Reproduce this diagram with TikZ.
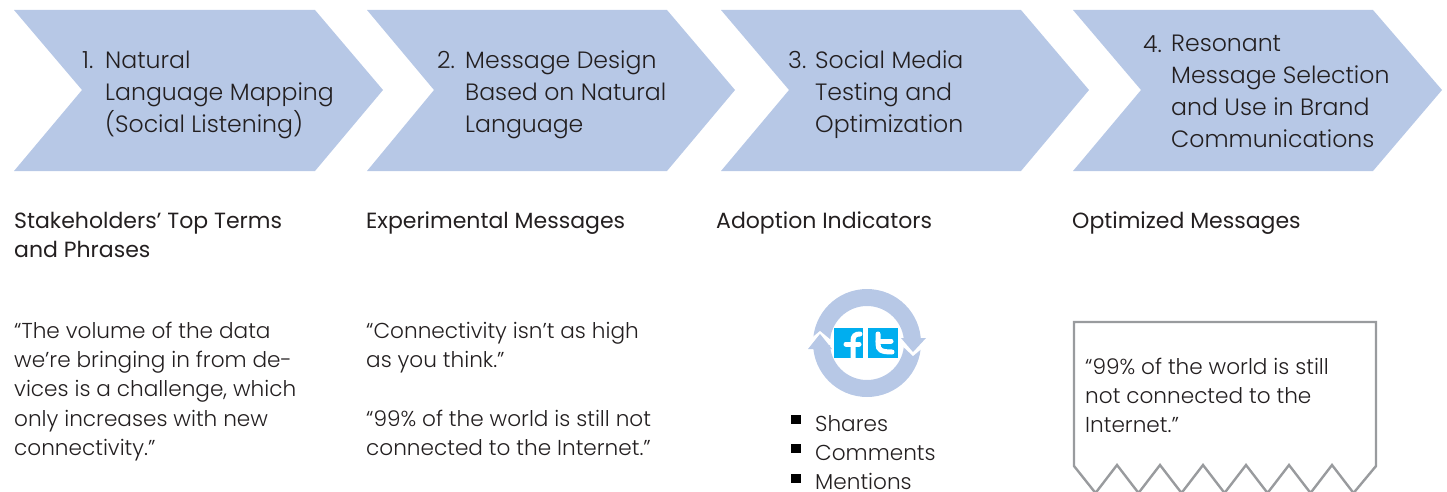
\documentclass[tikz,border=0pt]{standalone}
\usepackage{fontspec}
\setmainfont{Poppins Light}
\newfontfamily\headf{Poppins}
\definecolor{chev}{HTML}{B7C8E6}
\definecolor{ink}{HTML}{231F20}
\definecolor{fbblue}{HTML}{00AEEF}
\definecolor{boxgray}{HTML}{999B9E}
\tikzset{
  chevron/.style={fill=chev,draw=none},
  steptxt/.style={anchor=north west,inner sep=0pt,align=left,text=ink,font=\fontsize{23.6}{32}\selectfont},
  headtxt/.style={anchor=north west,inner sep=0pt,align=left,text=ink,font=\headf\fontsize{22}{29}\selectfont},
  bodytxt/.style={anchor=north west,inner sep=0pt,align=left,text=ink,font=\fontsize{21.6}{29.2}\selectfont},
  bullet/.style={fill=black,draw=none},
  logo/.style={draw=white,line width=5pt,line cap=round}
}
\begin{document}
\begin{tikzpicture}[x=1pt,y=-1pt]
\useasboundingbox (0,0) rectangle (1447,492);
\clip (0,0) rectangle (1447,492);
% chevrons
\fill[chevron] (14,10) -- (315,10) -- (383,90) -- (315,171) -- (14,171) -- (82,90) -- cycle;
\fill[chevron] (367,10) -- (667,10) -- (735,90) -- (667,171) -- (367,171) -- (434,90) -- cycle;
\fill[chevron] (721,10) -- (1021,10) -- (1089,90) -- (1021,171) -- (721,171) -- (789,90) -- cycle;
\fill[chevron] (1073,10) -- (1373,10) -- (1442,90) -- (1373,171) -- (1073,171) -- (1141,90) -- cycle;
% step labels
\node[steptxt] (s1n) at (82,51) {1.};
\node[steptxt] (s1) at (105,51) {Natural\\Language Mapping\\(Social Listening)};
\node[steptxt] (s2n) at (437,51) {2.};
\node[steptxt] (s2) at (465,51) {Message Design\\Based on Natural\\Language};
\node[steptxt] (s3n) at (788,51) {3.};
\node[steptxt] (s3) at (815,51) {Social Media\\Testing and\\Optimization};
\node[steptxt] (s4n) at (1143,35) {4.};
\node[steptxt] (s4) at (1171,35) {Resonant\\Message Selection\\and Use in Brand\\Communications};
% headings
\node[headtxt] (h1) at (14,212) {Stakeholders’ Top Terms\\and Phrases};
\node[headtxt] (h2) at (366,212) {Experimental Messages};
\node[headtxt] (h3) at (716,212) {Adoption Indicators};
\node[headtxt] (h4) at (1072,212) {Optimized Messages};
% bodies
\node[bodytxt] (b1) at (14,322) {“The volume of the data\\we’re bringing in from de-\\vices is a challenge, which\\only increases with new\\connectivity.”};
\node[bodytxt] (b2a) at (366,322) {“Connectivity isn’t as high\\as you think.”};
\node[bodytxt] (b2b) at (366,410) {“99\% of the world is still not\\connected to the Internet.”};
% icon ring
\fill[chev,even odd rule] (867,343) circle[radius=54] (867,343) circle[radius=37];
\fill[white] (897,341) -- (931,341) -- (913,356) -- cycle;
\fill[white] (803,345) -- (837,345) -- (820,331) -- cycle;
\fill[chev] (901,338) -- (926,338) -- (913,352) -- cycle;
\fill[chev] (808,349) -- (832,349) -- (820,334) -- cycle;
\fill[fbblue] (834,328) rectangle (863,358);
\fill[fbblue] (868,328) rectangle (898,358);
\draw[logo] (853,358) -- (853,341) .. controls (853,336) and (855,334) .. (860,334);
\draw[logo] (846,344) -- (859,344);
\draw[logo] (878,334) -- (878,344) .. controls (878,350) and (881,352) .. (892,352);
\draw[logo] (878,341) -- (891,341);
% bullets
\fill[bullet] (791,415) rectangle (801,424);
\fill[bullet] (791,444) rectangle (801,453);
\fill[bullet] (791,474) rectangle (801,483);
\node[bodytxt] (l1) at (815,415) {Shares\\Comments\\Mentions};
% torn box
\draw[boxgray,line width=2.4pt,line join=miter] (1074,466) -- (1074,322) -- (1376,322) -- (1376,466)
  -- (1353.5,493) -- (1332,465) -- (1310.5,493) -- (1289,465) -- (1267.5,493) -- (1246,465) -- (1224.5,493)
  -- (1203,465) -- (1181.5,493) -- (1160,465) -- (1138.5,493) -- (1117,465) -- (1095.5,493) -- cycle;
\node[bodytxt] (b4) at (1085,358) {“99\% of the world is still\\not connected to the\\Internet.”};
\end{tikzpicture}
\end{document}
